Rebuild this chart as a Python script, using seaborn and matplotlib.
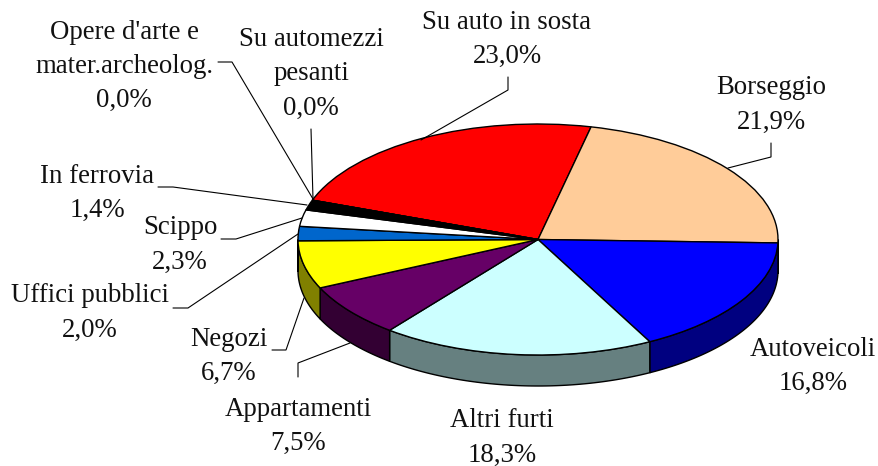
import numpy as np
import matplotlib
matplotlib.use("Agg")
import matplotlib.pyplot as plt
from matplotlib.transforms import Affine2D
import seaborn as sns

# data, clockwise from the start angle
names = ["Su auto in sosta", "Borseggio", "Autoveicoli", "Altri furti", "Appartamenti",
         "Negozi", "Uffici pubblici", "Scippo", "In ferrovia", "Su automezzi\npesanti",
         "Opere d'arte e\nmater.archeolog."]
values = [23.0, 21.9, 16.8, 18.3, 7.5, 6.7, 2.0, 2.3, 1.4, 0.0, 0.0]
top_colors = ["#FF0000", "#FFCC99", "#0000FF", "#CCFFFF", "#660066", "#FFFF00",
              "#0066CC", "#FFFFFF", "#000000", "#FF00FF", "#00FFFF"]
side_colors = ["#800000", "#806650", "#000080", "#668080", "#330033", "#808000",
               "#003366", "#808080", "#000000", "#800080", "#008080"]

# layout (pixels)
W, H = 879, 466
CX, CY, RX, RY, DEPTH = 538, 239.5, 240, 115.5, 31
START = 160.1
label_pos = [(507, 39.5), (771, 105), (813, 366.5), (502, 438), (298, 426.5),
             (229, 356.5), (90, 313), (180, 245), (97.5, 193.5), (311, 74), (124, 66.5)]
leaders = [
    [(508, 77), (508, 90), (421, 140)],
    [(771, 143), (771, 157), (728, 168)],
    [(298, 377), (298, 363), (350, 343)],
    [(272, 350), (286, 350), (304, 298)],
    [(173, 308), (188, 308), (298, 234)],
    [(221, 239), (236, 239), (302, 218)],
    [(158, 187), (173, 187), (307, 205)],
    [(311, 129), (313, 199)],
    [(218, 62), (232, 62), (313, 199)],
]

sns.set_theme(style="white")
plt.rcParams["font.family"] = ["Liberation Serif", "DejaVu Sans"]

fig = plt.figure(figsize=(W / 100, H / 100), dpi=100, facecolor="white")
ax = fig.add_axes([0, 0, 1, 1])

to_px = Affine2D().scale(RX, -RY).translate(CX, CY) + ax.transData

# side wall of the disc, front half only, from the same values
bounds = START - np.concatenate([[0], np.cumsum(values)]) * 360 / np.sum(values)
for a0, a1, col in zip(bounds[:-1], bounds[1:], side_colors):
    a_hi, a_lo = a0 % 360, (a0 % 360) - (a0 - a1)
    for shift in (0, 360):
        lo = max(a_lo + shift, 180)
        hi = min(a_hi + shift, 360)
        if hi <= lo:
            continue
        t = np.radians(np.linspace(lo, hi, 80))
        xs = np.concatenate([RX * np.cos(t), RX * np.cos(t[::-1])]) + CX
        ys = np.concatenate([-RY * np.sin(t), -RY * np.sin(t[::-1]) + DEPTH]) + CY
        ax.fill(xs, ys, facecolor=col, edgecolor="black", linewidth=1.0, zorder=1)

wedges, _ = ax.pie(values, colors=top_colors, startangle=START, counterclock=False,
                   wedgeprops=dict(edgecolor="black", linewidth=1.0))
for w in wedges:
    w.set_transform(to_px)
    w.set_zorder(2)

for path in leaders:
    ax.plot(*zip(*path), color="black", linewidth=0.8, zorder=3, solid_joinstyle="miter")

for name, val, (x, y) in zip(names, values, label_pos):
    pct = f"{val:.1f}%".replace(".", ",")
    ax.text(x, y, f"{name}\n{pct}", ha="center", va="center", fontsize=19.25, color="#111111",
            linespacing=1.49, multialignment="center", zorder=4)

ax.set_xlim(0, W)
ax.set_ylim(H, 0)
ax.set_aspect("auto")
ax.axis("off")
fig.savefig("out.png", dpi=100, facecolor="white")
